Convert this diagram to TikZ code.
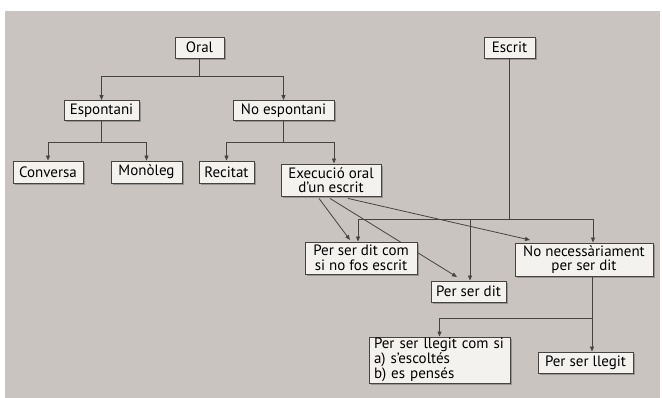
\documentclass[tikz,border=0pt]{standalone}
\usepackage{fontspec}
\setmainfont{PT Sans}
\usetikzlibrary{shadows,arrows.meta,calc}
\definecolor{bg}{RGB}{201,196,191}
\definecolor{boxfill}{RGB}{244,242,238}
\definecolor{ink}{RGB}{70,68,66}
\tikzset{
  box/.style={draw=ink, line width=0.9pt, fill=boxfill, inner sep=1pt,
    font=\fontsize{15}{14.5}\selectfont, text=black,
    drop shadow={shadow xshift=1.6pt, shadow yshift=-1.6pt, opacity=0.4, fill=black!70}},
  conn/.style={draw=ink, line width=0.8pt},
  arr/.style={conn, -{Triangle[length=5pt,width=4pt]}}
}
\begin{document}
\begin{tikzpicture}[x=1pt,y=-1pt]
\useasboundingbox (0,0) rectangle (662,398);
\fill[white] (0,0) rectangle (662,398);
\fill[bg] (5,11) rectangle (660,398);
% nodes
\node[box, minimum width=49, minimum height=21] (oral) at (199.5,47.5) {Oral};
\node[box, minimum width=51, minimum height=21] (escrit) at (509.5,47.5) {Escrit};
\node[box, minimum width=75, minimum height=20] (esp) at (101.5,110.5) {Espontani};
\node[box, minimum width=101, minimum height=20] (noesp) at (283.5,110.5) {No espontani};
\node[box, minimum width=70, minimum height=22] (conv) at (48,172) {Conversa};
\node[box, minimum width=71, minimum height=22] (mono) at (146.5,172) {Monòleg};
\node[box, minimum width=55, minimum height=22] (rec) at (226.5,172) {Recitat};
\node[box, minimum width=100, minimum height=32, align=center] (exec) at (331,180) {Execució oral\\d’un escrit};
% lines behind lower boxes
\draw[arr] ($(exec.south)+(-12,2)$) coordinate (e1) -- (350,240) coordinate (t1);
\draw[arr] ($(exec.south)+(-1,2)$) coordinate (e2) -- (457,277) coordinate (t2);
\draw[arr] ($(exec.south)+(17,2)$) coordinate (e3) -- (530,240) coordinate (t3);
\node[box, minimum width=112, minimum height=32, align=center] (dcom) at (361,258) {Per ser dit com\\si no fos escrit};
\node[box, minimum width=75, minimum height=21] (dit) at (468.5,291.5) {Per ser dit};
\node[box, minimum width=138, minimum height=33, align=center] (nonec) at (584,259.5) {No necessàriament\\per ser dit};
\node[box, minimum width=141, minimum height=46, align=left, inner xsep=5pt, text width=131pt, font=\fontsize{15}{13}\selectfont] (llcom) at (439.5,360) {Per ser llegit com si\\a) s’escoltés\\b) es pensés};
\node[box, minimum width=95, minimum height=21] (llegit) at (585.5,362.5) {Per ser llegit};
% tree connectors
\draw[conn] (oral.south) -- ++(0,17.5) coordinate (oj);
\draw[arr] (oj) -| (esp.north);
\draw[arr] (oj) -| (noesp.north);
\draw[conn] (esp.south) -- ++(0,21) coordinate (ej);
\draw[arr] (ej) -| (conv.north);
\draw[arr] (ej) -| (mono.north);
\draw[conn] (noesp.south) -- ++(0,21) coordinate (nj);
\draw[arr] (nj) -| (rec.north);
\draw[arr] (nj) -| ([xshift=3pt]exec.north);
\draw[conn] (escrit.south) -- (509.5,219) coordinate (sj);
\draw[arr] (sj) -| ([xshift=-3pt]dcom.north);
\draw[arr] (sj) -| ([xshift=1.5pt]dit.north);
\draw[arr] (sj) -| ([xshift=9pt]nonec.north);
\draw[conn] ([xshift=8pt]nonec.south) -- (592,318) coordinate (lj);
\draw[arr] (lj) -| (llcom.north);
\draw[arr] (lj) -| ([xshift=6.5pt]llegit.north);
\end{tikzpicture}
\end{document}
